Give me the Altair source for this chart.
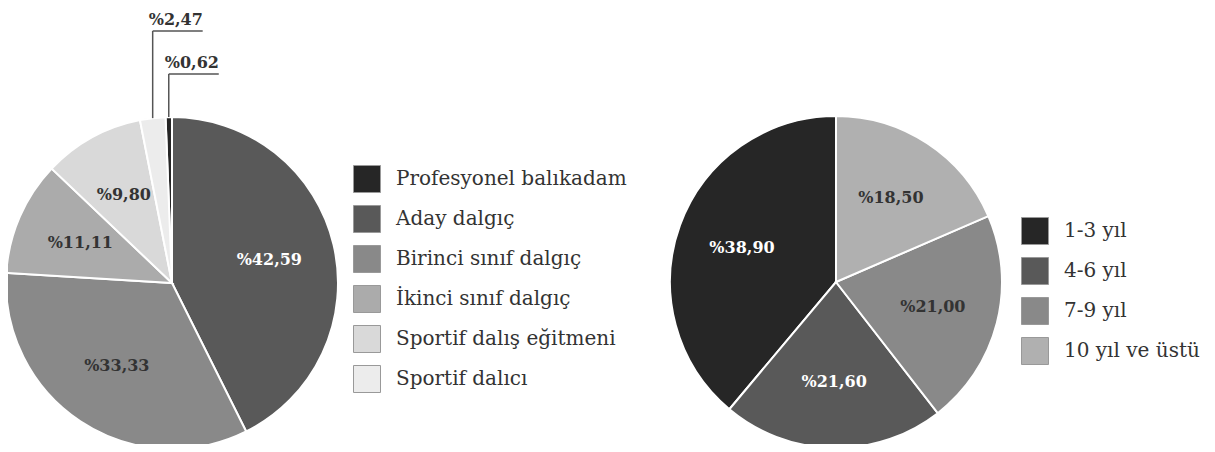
import altair as alt
import pandas as pd

# ---- data ----
left_cats = ["Profesyonel balıkadam", "Aday dalgıç", "Birinci sınıf dalgıç",
             "İkinci sınıf dalgıç", "Sportif dalış eğitmeni", "Sportif dalıcı"]
left_vals = [0.62, 42.59, 33.33, 11.11, 9.80, 2.47]
left_colors = ["#262626", "#595959", "#898989", "#ababab", "#d9d9d9", "#ececec"]
# clockwise drawing order from 12 o'clock
left_draw = ["Aday dalgıç", "Birinci sınıf dalgıç", "İkinci sınıf dalgıç",
             "Sportif dalış eğitmeni", "Sportif dalıcı", "Profesyonel balıkadam"]
left_white = ["Aday dalgıç"]

right_cats = ["1-3 yıl", "4-6 yıl", "7-9 yıl", "10 yıl ve üstü"]
right_vals = [38.90, 21.60, 21.00, 18.50]
right_colors = ["#262626", "#595959", "#898989", "#b0b0b0"]
right_draw = ["10 yıl ve üstü", "7-9 yıl", "4-6 yıl", "1-3 yıl"]
right_white = ["1-3 yıl", "4-6 yıl"]

R = 166
SERIF = "DejaVu Serif"


def make_df(cats, vals, draw):
    return pd.DataFrame({"cat": cats, "value": vals,
                         "ord": [draw.index(c) for c in cats]})


def pie(df, cats, colors, white, cx, cy, lx, ly, callouts=False):
    base = alt.Chart(df).transform_calculate(
        label="datum.value >= 3 ? '%' + replace(format(datum.value, '.2f'), '.', ',') : ''"
    ).encode(
        theta=alt.Theta("value:Q", stack=True),
        order=alt.Order("ord:Q", sort="ascending"),
    )
    arcs = base.mark_arc(outerRadius=R, stroke="white", strokeWidth=2).encode(
        x=alt.value(cx), y=alt.value(cy),
        color=alt.Color(
            "cat:N",
            scale=alt.Scale(domain=cats, range=colors),
            legend=alt.Legend(
                orient="none", legendX=lx, legendY=ly, title=None,
                symbolType="square", symbolSize=729,
                symbolStrokeColor="#999999", symbolStrokeWidth=1,
                symbolOpacity=1,
                labelFont=SERIF, labelFontSize=20, labelColor="#333333",
                labelLimit=400, rowPadding=8, labelOffset=15,
            ),
        ),
    )
    text = base.mark_text(radius=100, font=SERIF, fontSize=16, fontWeight="bold").encode(
        x=alt.value(cx), y=alt.value(cy),
        text="label:N",
        color=alt.when(alt.FieldOneOfPredicate(field="cat", oneOf=white))
        .then(alt.value("white")).otherwise(alt.value("#333333")),
    )
    layers = [arcs, text]
    if callouts:
        cb = alt.Chart(df).transform_joinaggregate(
            total="sum(value)"
        ).transform_window(
            cum="sum(value)", sort=[alt.SortField("ord")], frame=[None, 0]
        ).transform_calculate(
            mid="(datum.cum - datum.value / 2) / datum.total * 2 * PI"
        ).transform_filter(
            "datum.value < 3"
        ).transform_window(
            rk="rank()", sort=[alt.SortField("value")]
        ).transform_calculate(
            px=f"{cx} + {R} * sin(datum.mid)",
            py=f"{cy} - {R} * cos(datum.mid)",
            ly=f"{cy - R} - 43 * datum.rk",
        ).transform_calculate(
            hx="datum.px + 50",
            tx="datum.px - 4",
            ty="datum.ly - 6",
            lab="'%' + replace(format(datum.value, '.2f'), '.', ',')",
        )
        vline = cb.mark_rule(color="#555555", strokeWidth=1.5).encode(
            x=alt.X("px:Q", scale=None), y=alt.Y("py:Q", scale=None), y2="ly:Q")
        hline = cb.mark_rule(color="#555555", strokeWidth=1.5).encode(
            x=alt.X("px:Q", scale=None), x2="hx:Q", y=alt.Y("ly:Q", scale=None))
        ctext = cb.mark_text(font=SERIF, fontSize=16, fontWeight="bold",
                             align="left", baseline="alphabetic", color="#333333").encode(
            x=alt.X("tx:Q", scale=None), y=alt.Y("ty:Q", scale=None), text="lab:N")
        layers += [vline, hline, ctext]
    return alt.layer(*layers)


left = pie(make_df(left_cats, left_vals, left_draw), left_cats, left_colors,
           left_white, 164, 275, 345, 157, callouts=True)
right = pie(make_df(right_cats, right_vals, right_draw), right_cats, right_colors,
            right_white, 828, 274, 1013, 209)

chart = alt.layer(left, right).resolve_scale(
    color="independent", theta="independent"
).properties(
    width=1199, height=436,
    autosize=alt.AutoSizeParams(type="none"),
    padding=0,
    background="white",
).configure_view(stroke=None)

chart.save("out.html", embed_options={"renderer": "svg", "actions": False})
